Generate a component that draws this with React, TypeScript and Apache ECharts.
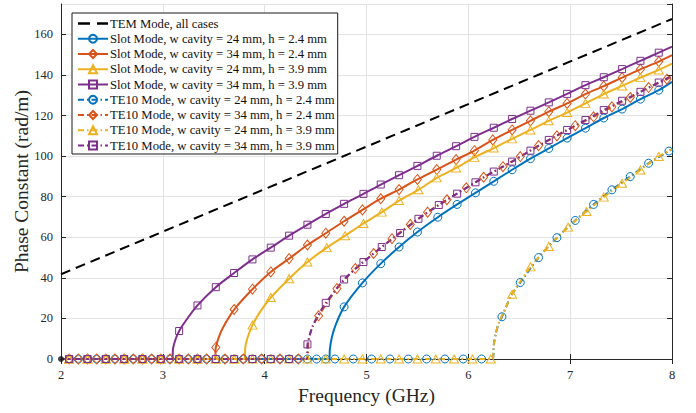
import React, { useEffect, useRef } from "react";
import * as echarts from "echarts";

const FONT = "Liberation Serif";
const AX = "#262626";
const BLUE = "#0072BD";
const ORANGE = "#D95319";
const YELLOW = "#EDB120";
const PURPLE = "#7E2F8E";

// axis ticks
const xTicks = [2, 3, 4, 5, 6, 7, 8];
const yTicks = [0, 20, 40, 60, 80, 100, 120, 140, 160];

const seriesNames = [
  "TEM Mode, all cases",
  "Slot Mode, w cavity = 24 mm, h = 2.4 mm",
  "Slot Mode, w cavity = 34 mm, h = 2.4 mm",
  "Slot Mode, w cavity = 24 mm, h = 3.9 mm",
  "Slot Mode, w cavity = 34 mm, h = 3.9 mm",
  "TE10 Mode, w cavity = 24 mm, h = 2.4 mm",
  "TE10 Mode, w cavity = 34 mm, h = 2.4 mm",
  "TE10 Mode, w cavity = 24 mm, h = 3.9 mm",
  "TE10 Mode, w cavity = 34 mm, h = 3.9 mm",
];

// TEM line
const temFreq = [2, 8];
const temBeta = [41.8, 167.6];

// marker positions along the zero (below cut-off) part
const zeroGridA = [2.08, 2.26, 2.44, 2.62, 2.8, 2.98, 3.16, 3.34, 3.52, 3.7, 3.88, 4.06, 4.24, 4.42, 4.6, 4.78, 4.96, 5.14, 5.32, 5.5, 5.68, 5.86, 6.04, 6.22];
const zeroGridB = [2.17, 2.35, 2.53, 2.71, 2.89, 3.07, 3.25, 3.43, 3.61, 3.79, 3.97, 4.15, 4.33, 4.51, 4.69, 4.87, 5.05, 5.23, 5.41, 5.59, 5.77, 5.95, 6.13];

// Slot mode, w 24, h 2.4 (blue)
const slotB24h24Cut = 4.635;
const slotB24h24BendF = [4.64, 4.66, 4.7];
const slotB24h24BendB = [4.8, 10.7, 17.2];
const slotB24h24F = [4.78, 4.96, 5.14, 5.32, 5.5, 5.7, 5.89, 6.07, 6.25, 6.43, 6.61, 6.79, 6.97, 7.15, 7.33, 7.51, 7.69, 7.87];
const slotB24h24B = [25.7, 37.5, 47, 55.2, 62.6, 69.9, 76.2, 81.9, 87.6, 93.3, 98.8, 103.8, 108.9, 113.8, 118.8, 123.2, 128.1, 132.5];
const slotB24h24End = [8.0, 136.6];

// Slot mode, w 34, h 2.4 (orange)
const slot34h24Cut = 3.51;
const slot34h24BendF = [3.56, 3.62];
const slot34h24BendB = [12.2, 18.1];
const slot34h24F = [3.52, 3.7, 3.88, 4.06, 4.24, 4.42, 4.6, 4.78, 4.96, 5.14, 5.32, 5.5, 5.69, 5.88, 6.06, 6.24, 6.43, 6.61, 6.79, 6.97, 7.15, 7.33, 7.51, 7.69, 7.87];
const slot34h24B = [5.7, 24.4, 34.4, 42.9, 49.5, 56.2, 62, 67.9, 73.5, 79, 83.5, 88.5, 93.4, 98.3, 102.7, 108, 112.9, 117.4, 121.9, 126, 130.6, 134.5, 138.7, 142.8, 146.6];
const slot34h24End = [8.0, 149.8];

// Slot mode, w 24, h 3.9 (yellow)
const slot24h39Cut = 3.8;
const slot24h39BendF = [3.81, 3.83, 3.96];
const slot24h39BendB = [5.9, 10.2, 23.6];
const slot24h39F = [3.88, 4.06, 4.24, 4.42, 4.61, 4.79, 4.97, 5.15, 5.32, 5.51, 5.69, 5.88, 6.06, 6.25, 6.43, 6.61, 6.79, 6.97, 7.15, 7.33, 7.51, 7.69, 7.87];
const slot24h39B = [16.7, 30.3, 39.6, 47.8, 54.9, 60.8, 66.8, 72.4, 78.1, 83.4, 89.3, 94.2, 99.4, 104, 108.5, 112.9, 117.4, 121.5, 126, 130.6, 134.6, 138.7, 142.5];
const slot24h39End = [8.0, 145.6];

// Slot mode, w 34, h 3.9 (purple)
const slot34h39Cut = 3.09;
const slot34h39BendF = [3.1, 3.12, 3.22];
const slot34h39BendB = [5, 9, 18.5];
const slot34h39F = [3.16, 3.34, 3.52, 3.7, 3.88, 4.06, 4.24, 4.42, 4.6, 4.78, 4.97, 5.14, 5.32, 5.5, 5.69, 5.88, 6.06, 6.25, 6.43, 6.61, 6.79, 6.97, 7.15, 7.33, 7.51, 7.69, 7.87];
const slot34h39B = [13.8, 26.4, 35.4, 42.4, 49.1, 54.9, 60.8, 66.2, 71.5, 76.5, 81.4, 86, 90.6, 95.2, 100.2, 104.9, 109.5, 114, 118.3, 122.4, 126.5, 130.7, 135, 138.9, 142.9, 147, 151];
const slot34h39End = [8.0, 154];

// TE10 mode, w 24, h 2.4 (blue)
const te24h24Cut = 6.24;
const te24h24BendF = [6.25, 6.27, 6.3, 6.42];
const te24h24BendB = [7, 12.5, 18, 31.2];
const te24h24F = [6.33, 6.51, 6.69, 6.87, 7.05, 7.23, 7.41, 7.59, 7.77, 7.97];
const te24h24B = [20.8, 37.7, 50, 59.8, 68.3, 76.2, 83.4, 89.9, 96.5, 102.5];
const te24h24End = [8.0, 103.4];

// TE10 mode, w 34, h 2.4 (orange)
const te34h24Cut = 4.415;
const te34h24BendF = [4.43, 4.47];
const te34h24BendB = [9, 16];
const te34h24F = [4.53, 4.71, 4.89, 5.07, 5.25, 5.43, 5.6, 5.79, 5.98, 6.15, 6.34, 6.51, 6.69, 6.87, 7.05, 7.23, 7.41, 7.59, 7.77, 7.95];
const te34h24B = [21.3, 34.7, 44.6, 52, 59.3, 66.3, 72.4, 78.5, 84.4, 89.6, 94.8, 99.8, 105.2, 110, 115, 119.4, 124.3, 128.9, 133.8, 137.9];
const te34h24End = [8.0, 139.6];

// TE10 mode, w 24, h 3.9 (yellow)
const te24h39Cut = 6.24;
const te24h39BendF = [6.25, 6.27, 6.3, 6.34];
const te24h39BendB = [7, 12.5, 18, 22.5];
const te24h39F = [6.43, 6.61, 6.79, 6.98, 7.16, 7.33, 7.51, 7.69, 7.87];
const te24h39B = [31.9, 45.4, 55.5, 65, 72.7, 79.8, 86.6, 93.2, 99.8];
const te24h39End = [8.0, 103.4];

// TE10 mode, w 34, h 3.9 (purple)
const te34h39Cut = 4.415;
const te34h39BendF = [4.47, 4.52];
const te34h39BendB = [16, 21.1];
const te34h39F = [4.42, 4.6, 4.78, 4.97, 5.15, 5.33, 5.51, 5.71, 5.89, 6.07, 6.25, 6.43, 6.61, 6.79, 6.97, 7.15, 7.33, 7.51, 7.69, 7.87];
const te34h39B = [7.2, 27.7, 39.2, 47.8, 55.2, 62.1, 69.1, 75.9, 81.5, 87.1, 92.4, 97.3, 102.7, 108, 112.9, 117.8, 122.7, 127.3, 131.7, 136.3];
const te34h39End = [8.0, 139.6];

type Pt = number[] | { value: number[]; symbol: string };

function buildData(
  zeroGrid: number[],
  cut: number,
  bendF: number[],
  bendB: number[],
  markF: number[],
  markB: number[],
  end: number[]
): Pt[] {
  const pts: Pt[] = [];
  pts.push({ value: [2, 0], symbol: "none" });
  zeroGrid.filter((f) => f < cut - 0.005).forEach((f) => pts.push([f, 0]));
  pts.push({ value: [cut, 0], symbol: "none" });
  bendF.forEach((f, i) => pts.push({ value: [f, bendB[i]], symbol: "none" }));
  markF.forEach((f, i) => pts.push([f, markB[i]]));
  pts.push({ value: end, symbol: "none" });
  const xOf = (p: Pt) => (Array.isArray(p) ? p[0] : p.value[0]);
  return pts.sort((a, b) => xOf(a) - xOf(b));
}

const DASHDOT = [6, 3, 1.5, 3];

function modeSeries(
  name: string,
  color: string,
  symbol: string,
  size: number | number[],
  dashed: boolean,
  data: Pt[]
) {
  return {
    name,
    type: "line",
    data,
    smooth: 0.25,
    symbol,
    symbolSize: size,
    showAllSymbol: true,
    color,
    lineStyle: { color, width: 2, type: dashed ? DASHDOT : "solid" },
    itemStyle: { color: "rgba(255,255,255,0)", borderColor: color, borderWidth: 1 },
    emphasis: { disabled: true },
    xAxisIndex: 0,
    yAxisIndex: 0,
  };
}

export default function App() {
  const ref = useRef<HTMLDivElement>(null);
  useEffect(() => {
    document.body.style.margin = "0";
    const chart = echarts.init(ref.current!, null, { renderer: "svg" });
    const series: any[] = [
      {
        name: seriesNames[0],
        type: "line",
        data: temFreq.map((f, i) => [f, temBeta[i]]),
        symbol: "none",
        color: "#000",
        lineStyle: { color: "#000", width: 2, type: [10, 6] },
        itemStyle: { color: "#000" },
        emphasis: { disabled: true },
      },
      modeSeries(seriesNames[1], BLUE, "circle", 8, false,
        buildData(zeroGridA, slotB24h24Cut, slotB24h24BendF, slotB24h24BendB, slotB24h24F, slotB24h24B, slotB24h24End)),
      modeSeries(seriesNames[2], ORANGE, "diamond", [8, 10], false,
        buildData(zeroGridA, slot34h24Cut, slot34h24BendF, slot34h24BendB, slot34h24F, slot34h24B, slot34h24End)),
      modeSeries(seriesNames[3], YELLOW, "triangle", [9, 8], false,
        buildData(zeroGridA, slot24h39Cut, slot24h39BendF, slot24h39BendB, slot24h39F, slot24h39B, slot24h39End)),
      modeSeries(seriesNames[4], PURPLE, "rect", 7, false,
        buildData(zeroGridA, slot34h39Cut, slot34h39BendF, slot34h39BendB, slot34h39F, slot34h39B, slot34h39End)),
      modeSeries(seriesNames[5], BLUE, "circle", 8, true,
        buildData(zeroGridB, te24h24Cut, te24h24BendF, te24h24BendB, te24h24F, te24h24B, te24h24End)),
      modeSeries(seriesNames[6], ORANGE, "diamond", [8, 10], true,
        buildData(zeroGridB, te34h24Cut, te34h24BendF, te34h24BendB, te34h24F, te34h24B, te34h24End)),
      modeSeries(seriesNames[7], YELLOW, "triangle", [9, 8], true,
        buildData(zeroGridA, te24h39Cut, te24h39BendF, te24h39BendB, te24h39F, te24h39B, te24h39End)),
      modeSeries(seriesNames[8], PURPLE, "rect", 7, true,
        buildData(zeroGridA, te34h39Cut, te34h39BendF, te34h39BendB, te34h39F, te34h39B, te34h39End)),
      {
        name: "origin",
        type: "scatter",
        data: [[2, 0]],
        symbolSize: 6,
        itemStyle: { color: "#111" },
        emphasis: { disabled: true },
        z: 5,
      },
    ];

    const xMin = xTicks[0];
    const xMax = xTicks[xTicks.length - 1];
    const xInt = xTicks[1] - xTicks[0];
    const yInt = yTicks[1] - yTicks[0];

    const option: any = {
      animation: false,
      backgroundColor: "#fff",
      textStyle: { fontFamily: FONT },
      grid: { left: 61, right: 24, top: 4, bottom: 54, containLabel: false, outerBoundsMode: "none" },
      legend: {
        orient: "vertical",
        left: 72,
        top: 13,
        padding: [3, 3, 1, 5],
        itemWidth: 30,
        itemHeight: 10,
        itemGap: 0.25,
        backgroundColor: "#fff",
        borderColor: "#1a1a1a",
        borderWidth: 1,
        borderRadius: 0,
        selectedMode: false,
        textStyle: { fontFamily: FONT, fontSize: 12.7, color: "#111", lineHeight: 15, padding: [0, 0, 0, -3] },
        data: seriesNames.map((n, i) =>
          i === 0
            ? { name: n, icon: "path://M0,0H12V2.4H0Z M19,0H30V2.4H19Z", itemStyle: { color: "#000" } }
            : { name: n }
        ),
      },
      xAxis: [
        {
          type: "value",
          min: xMin,
          max: xMax,
          interval: xInt,
          position: "bottom",
          name: "Frequency (GHz)",
          nameLocation: "middle",
          nameGap: 26,
          nameMoveOverlap: false,
          nameTextStyle: { fontFamily: FONT, fontSize: 19.5, color: AX },
          axisLine: { show: true, lineStyle: { color: AX, width: 1 } },
          axisTick: { show: true, inside: true, length: 5, lineStyle: { color: AX, width: 1 } },
          axisLabel: { show: true, fontFamily: FONT, fontSize: 12.5, color: AX, margin: 9 },
          splitLine: { show: true, lineStyle: { color: "#e3e3e3", width: 1 } },
        },
        {
          type: "value",
          min: xMin,
          max: xMax,
          interval: xInt,
          position: "top",
          axisLine: { show: true, lineStyle: { color: AX, width: 1 } },
          axisTick: { show: true, inside: true, length: 5, lineStyle: { color: AX, width: 1 } },
          axisLabel: { show: false },
          splitLine: { show: false },
        },
      ],
      yAxis: [
        {
          type: "value",
          min: 0,
          max: 175,
          interval: yInt,
          position: "left",
          name: "Phase Constant (rad/m)",
          nameLocation: "middle",
          nameGap: 30,
          nameMoveOverlap: false,
          nameTextStyle: { fontFamily: FONT, fontSize: 19.5, color: AX },
          axisLine: { show: true, lineStyle: { color: AX, width: 1 } },
          axisTick: { show: true, inside: true, length: 5, lineStyle: { color: AX, width: 1 } },
          axisLabel: {
            show: true,
            fontFamily: FONT,
            fontSize: 12.5,
            color: AX,
            margin: 8,
            showMaxLabel: false,
            formatter: (v: number) => (yTicks.indexOf(v) >= 0 ? String(v) : ""),
          },
          splitLine: { show: true, lineStyle: { color: "#e3e3e3", width: 1 } },
        },
        {
          type: "value",
          min: 0,
          max: 175,
          interval: yInt,
          position: "right",
          axisLine: { show: true, lineStyle: { color: AX, width: 1 } },
          axisTick: { show: true, inside: true, length: 5, lineStyle: { color: AX, width: 1 } },
          axisLabel: { show: false },
          splitLine: { show: false },
        },
      ],
      series,
    };
    chart.setOption(option);
    return () => chart.dispose();
  }, []);
  return <div ref={ref} style={{ width: 696, height: 413 }} />;
}
